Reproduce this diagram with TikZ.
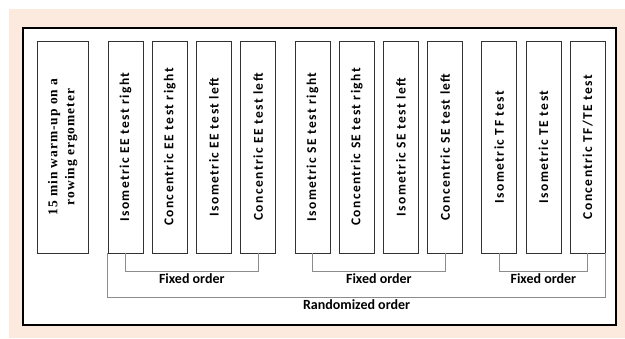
\documentclass[tikz,border=0pt]{standalone}
\usepackage{fontspec}
\setmainfont{Carlito}
\newfontfamily\spacedfont[LetterSpace=10.5]{Carlito}
\newfontfamily\warmfont[LetterSpace=7]{Liberation Serif}
\usepackage{xcolor}
\usepackage{tikz}
\usetikzlibrary{arrows,shapes,positioning}

\begin{document}
\begin{tikzpicture}[x=1pt,y=-1pt,node distance=44.2pt]
    \definecolor{mybeige}{RGB}{251,234,221}
    \definecolor{myedge}{RGB}{50,50,50}
    \definecolor{mygray}{RGB}{140,140,140}

    % background and frame
    \useasboundingbox (0,0) rectangle (625,338);
    \fill[mybeige] (9,9) rectangle (625,338);
    \draw[black,line width=2pt,fill=white] (23,28) rectangle (616,325);

    \tikzstyle{testbox}=[rectangle,draw=myedge,line width=0.8pt,fill=white,minimum width=35pt,minimum height=212pt,inner sep=0pt,font=\fontsize{13.5pt}{16pt}\selectfont\spacedfont\bfseries]  % test blocks
    \tikzstyle{warmbox}=[testbox,minimum width=51pt,font=\fontsize{13.5pt}{17pt}\selectfont\warmfont\bfseries]  % warm-up block
    \tikzstyle{order}=[draw=mygray,line width=0.8pt]  % brackets
    \tikzstyle{orderlabel}=[font=\fontsize{14pt}{16pt}\selectfont\bfseries,inner sep=2pt]

    % warm-up
    \node[warmbox](warm) at (62.5,147){\rotatebox{90}{\begin{tabular}{@{}c@{}}15 min warm-up on a\\rowing ergometer\end{tabular}}};
    % EE tests
    \node[testbox](1) at (125.5,147){\rotatebox{90}{Isometric EE test right}};
    \node[testbox,right of=1](2){\rotatebox{90}{Concentric EE test right}};
    \node[testbox,right of=2](3){\rotatebox{90}{Isometric EE test left}};
    \node[testbox,right of=3](4){\rotatebox{90}{Concentric EE test left}};
    % SE tests
    \node[testbox,right of=4,node distance=54.5pt](5){\rotatebox{90}{Isometric SE test right}};
    \node[testbox,right of=5](6){\rotatebox{90}{Concentric SE test right}};
    \node[testbox,right of=6](7){\rotatebox{90}{Isometric SE test left}};
    \node[testbox,right of=7](8){\rotatebox{90}{Concentric SE test left}};
    % trunk tests
    \node[testbox,right of=8,node distance=54pt](9){\rotatebox{90}{Isometric TF test}};
    \node[testbox,right of=9](10){\rotatebox{90}{Isometric TE test}};
    \node[testbox,right of=10](11){\rotatebox{90}{Concentric TF/TE test}};

    % brackets
    \draw[order](1.south) -- ++(0,18) -| node[pos=0.25,below,orderlabel]{Fixed order}(4.south);
    \draw[order](5.south) -- ++(0,18) -| node[pos=0.25,below,orderlabel]{Fixed order}(8.south);
    \draw[order](9.south) -- ++(0,18) -| node[pos=0.25,below,orderlabel]{Fixed order}(11.south);
    \draw[order](1.south west) -- ++(0,44) -| node[pos=0.25,below,orderlabel]{Randomized order}(11.south east);
\end{tikzpicture}
\end{document}
